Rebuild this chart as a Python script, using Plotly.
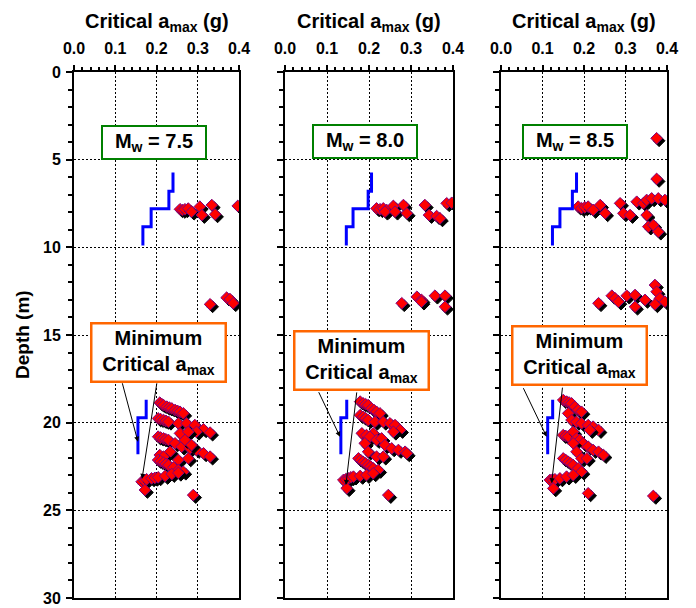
import plotly.graph_objects as go

# ---------------- data ----------------
magnitudes = ["7.5", "8.0", "8.5"]

# minimum critical a_max profiles (step lines): layer boundaries and values
step_depth_upper = [5.73, 6.8, 7.8, 8.83, 9.9]
step_depth_lower = [18.7, 19.72, 21.8]
step_upper_m75 = [0.240, 0.230, 0.187, 0.167]
step_upper_m80 = [0.206, 0.198, 0.162, 0.146]
step_upper_m85 = [0.182, 0.172, 0.142, 0.124]
step_lower_m75 = [0.175, 0.155]
step_lower_m80 = [0.147, 0.133]
step_lower_m85 = [0.1245, 0.1125]

# critical a_max of individual samples, Mw = 7.5
amax_m75 = [0.257, 0.263, 0.269, 0.277, 0.285, 0.305, 0.310, 0.334, 0.342, 0.397,
            0.330, 0.370, 0.378, 0.386,
            0.208, 0.212, 0.217, 0.225, 0.231, 0.237, 0.245, 0.251, 0.257, 0.265,
            0.204, 0.210, 0.217, 0.223, 0.229, 0.253, 0.273, 0.293, 0.314, 0.297, 0.330,
            0.257, 0.277,
            0.204, 0.210, 0.217, 0.223, 0.229, 0.245, 0.261, 0.281, 0.297, 0.314, 0.330,
            0.233, 0.253, 0.277, 0.269, 0.285,
            0.208, 0.217, 0.204, 0.210, 0.217, 0.223, 0.229, 0.241, 0.253, 0.265,
            0.164, 0.170, 0.176, 0.188, 0.196, 0.204, 0.221, 0.237, 0.253,
            0.172, 0.289]
depth_m75 = [7.83, 7.87, 7.83, 7.79, 7.97, 7.68, 8.16, 7.59, 8.12, 7.64,
             13.25, 12.87, 12.95, 13.19,
             18.86, 18.93, 19.00, 19.09, 19.14, 19.19, 19.28, 19.33, 19.38, 19.47,
             19.76, 19.80, 19.85, 19.90, 19.95, 20.04, 20.04, 20.14, 20.38, 20.52, 20.57,
             20.61, 20.52,
             20.80, 20.85, 20.90, 20.95, 20.99, 21.18, 21.37, 21.47, 21.56, 21.75, 21.94,
             21.66, 22.13, 22.04, 20.99, 21.28,
             21.85, 21.94, 22.13, 22.20, 22.28, 22.35, 22.42, 22.55, 22.70, 22.80,
             23.37, 23.30, 23.23, 23.18, 23.15, 23.12, 23.04, 22.93, 22.86,
             23.84, 24.13]

# Mw = 8.0
amax_m80 = [0.218, 0.226, 0.234, 0.242, 0.238, 0.258, 0.262, 0.282, 0.290, 0.333,
            0.343, 0.361, 0.369, 0.385, 0.397,
            0.278, 0.314, 0.325, 0.325, 0.357, 0.381, 0.381,
            0.179, 0.186, 0.192, 0.198, 0.206, 0.212, 0.218, 0.226,
            0.179, 0.186, 0.192, 0.198, 0.214, 0.234, 0.250, 0.262, 0.274, 0.258,
            0.183, 0.194, 0.210, 0.202, 0.218, 0.230, 0.238, 0.254, 0.270, 0.286, 0.290,
            0.190, 0.198, 0.218, 0.234,
            0.175, 0.180, 0.186, 0.192, 0.198, 0.204, 0.210, 0.222,
            0.139, 0.145, 0.151, 0.157, 0.163, 0.179, 0.194, 0.210,
            0.147, 0.246]
depth_m80 = [7.78, 7.83, 7.78, 7.87, 7.97, 7.64, 7.97, 7.59, 8.06, 7.59,
             8.16, 8.22, 8.35, 7.49, 7.46,
             13.19, 12.82, 13.00, 13.10, 12.76, 12.76, 13.39,
             18.80, 18.90, 18.95, 19.00, 19.19, 19.28, 19.38, 19.47,
             19.57, 19.66, 19.75, 19.85, 19.95, 19.95, 20.04, 20.14, 20.42, 20.52,
             20.61, 20.71, 20.61, 20.80, 20.99, 20.90, 21.28, 21.47, 21.56, 21.66, 21.75,
             21.18, 21.66, 21.94, 21.94,
             22.04, 22.13, 22.23, 22.32, 22.42, 22.50, 22.60, 22.70,
             23.27, 23.22, 23.18, 23.12, 23.08, 23.04, 22.99, 22.89,
             23.74, 24.13]

# Mw = 8.5
amax_m85 = [0.375, 0.375,
            0.186, 0.194, 0.202, 0.210, 0.222, 0.239, 0.251, 0.287, 0.295, 0.311,
            0.327, 0.343, 0.351, 0.363, 0.379, 0.395, 0.351, 0.355, 0.367, 0.379,
            0.235, 0.267, 0.275, 0.283, 0.303, 0.323, 0.323, 0.347, 0.371, 0.375,
            0.383, 0.371, 0.395,
            0.150, 0.158, 0.164, 0.170, 0.178, 0.186, 0.194,
            0.162, 0.170, 0.182, 0.194, 0.210, 0.222, 0.235, 0.214,
            0.150, 0.156, 0.162, 0.174, 0.182, 0.190, 0.198, 0.210, 0.222, 0.235, 0.247,
            0.174, 0.182, 0.194, 0.207,
            0.150, 0.156, 0.162, 0.168, 0.174, 0.186, 0.194,
            0.118, 0.124, 0.130, 0.142, 0.158, 0.174,
            0.126, 0.210, 0.367]
depth_m85 = [3.78, 6.10,
             7.68, 7.77, 7.72, 7.68, 7.87, 7.59, 8.06, 7.49, 8.06, 8.16,
             7.40, 7.49, 7.30, 7.21, 7.21, 7.30, 8.16, 8.82, 8.73, 9.11,
             13.19, 12.76, 12.91, 13.10, 12.76, 12.72, 13.39, 13.00, 12.15, 12.53,
             12.91, 13.25, 13.10,
             18.71, 18.80, 18.85, 18.90, 19.09, 19.28, 19.38,
             19.47, 19.85, 19.95, 20.04, 20.14, 20.23, 20.42, 20.42,
             20.71, 20.76, 20.80, 20.52, 20.90, 20.99, 21.18, 21.37, 21.56, 21.66, 21.85,
             21.18, 21.66, 22.04, 22.04,
             22.04, 22.13, 22.23, 22.32, 22.42, 22.60, 22.80,
             23.27, 23.25, 23.23, 23.18, 23.08, 22.99,
             23.75, 24.03, 24.18]

x_ticks = [0.0, 0.1, 0.2, 0.3, 0.4]
x_tick_text = ["0.0", "0.1", "0.2", "0.3", "0.4"]
y_ticks = [0, 5, 10, 15, 20, 25, 30]

# ---------------- layout geometry (pixels) ----------------
W, H = 696, 608
panel_px = [(74, 239), (285, 453), (501, 667)]
plot_top, plot_bot = 72, 598
X_MAX, Y_MAX = 0.4, 30
FONT = "Liberation Sans, Arial, sans-serif"
GRID_DASH = "2px,2px"

panels = [
    (amax_m75, depth_m75, step_upper_m75, step_lower_m75),
    (amax_m80, depth_m80, step_upper_m80, step_lower_m80),
    (amax_m85, depth_m85, step_upper_m85, step_lower_m85),
]


def step_xy(values, bounds):
    xs = list(values) + [values[-1]]
    return xs, list(bounds)


fig = go.Figure()
for i, (ax_vals, d_vals, up, low) in enumerate(panels):
    xa = "x" if i == 0 else f"x{i + 1}"
    ya = "y" if i == 0 else f"y{i + 1}"
    left, right = panel_px[i]
    # drop-shadow offset of about 2.5 px converted to data units
    dx = 2.5 * X_MAX / (right - left)
    dy = 2.5 * Y_MAX / (plot_bot - plot_top)
    # each sample is drawn as its shadow followed by the marker itself,
    # so overlapping samples stack the way they are plotted
    xs, ys, fills, edges = [], [], [], []
    for v, d in zip(ax_vals, d_vals):
        xs += [v + dx, v]
        ys += [d + dy, d]
        fills += ["black", "#ff0000"]
        edges += ["black", "#800080"]
    fig.add_trace(go.Scatter(
        x=xs, y=ys, mode="markers",
        marker=dict(symbol="diamond", size=9, color=fills,
                    line=dict(color=edges, width=1)),
        xaxis=xa, yaxis=ya))
    for vals, bounds in ((up, step_depth_upper), (low, step_depth_lower)):
        sx, sy = step_xy(vals, bounds)
        fig.add_trace(go.Scatter(
            x=sx, y=sy, mode="lines", line=dict(color="#0000ff", width=3, shape="vh"),
            xaxis=xa, yaxis=ya))

layout = dict(
    width=W, height=H, margin=dict(l=0, r=0, t=0, b=0, autoexpand=False),
    paper_bgcolor="white", plot_bgcolor="white", showlegend=False,
    font=dict(family=FONT, color="black"),
)

y_dom = [1 - plot_bot / H, 1 - plot_top / H]
for i, (left, right) in enumerate(panel_px):
    suffix = "" if i == 0 else str(i + 1)
    anchor_y = "y" + suffix
    anchor_x = "x" + suffix
    layout["xaxis" + suffix] = dict(
        domain=[left / W, right / W], anchor=anchor_y, side="top",
        range=[0, X_MAX], tickvals=x_ticks, ticktext=x_tick_text,
        ticks="outside", ticklen=5, tickwidth=2, tickcolor="black",
        ticklabelstandoff=5, automargin=False,
        tickfont=dict(size=16, family=FONT, weight="bold"),
        minor=dict(dtick=0.02, ticks="outside", ticklen=3, tickwidth=1.5,
                   tickcolor="black", showgrid=False),
        showline=True, linewidth=2, linecolor="black", mirror=True,
        showgrid=True, gridcolor="black", gridwidth=1, griddash=GRID_DASH,
        zeroline=False, fixedrange=True,
    )
    layout["yaxis" + suffix] = dict(
        domain=y_dom, anchor=anchor_x, range=[Y_MAX, 0],
        tickvals=y_ticks, showticklabels=(i == 0),
        ticks="outside", ticklen=6, tickwidth=2, tickcolor="black",
        ticklabelstandoff=2, automargin=False,
        tickfont=dict(size=16, family=FONT, weight="bold"),
        minor=dict(dtick=1, ticks="outside", ticklen=4, tickwidth=1.5,
                   tickcolor="black", showgrid=False),
        showline=True, linewidth=2, linecolor="black", mirror=True,
        showgrid=True, gridcolor="black", gridwidth=1, griddash=GRID_DASH,
        zeroline=False, fixedrange=True,
    )

fig.update_layout(**layout)

annotations = []
# top axis titles
for i, (left, right) in enumerate(panel_px):
    annotations.append(dict(
        text="Critical a<sub>max</sub> (g)", xref="paper", yref="paper",
        x=(left + right) / 2 / W, y=1 - 22 / H, showarrow=False,
        xanchor="center", yanchor="middle",
        font=dict(size=20, family=FONT, weight="bold")))

# depth axis title
annotations.append(dict(
    text="Depth (m)", xref="paper", yref="paper", x=22 / W, y=1 - 335 / H,
    textangle=-90, showarrow=False, xanchor="center", yanchor="middle",
    font=dict(size=19, family=FONT, weight="bold")))

# magnitude boxes and "Minimum Critical a_max" call-outs
mag_box_px = [(154, 142.5), (365, 141), (574.5, 141)]
min_box_px = [(158.5, 352.5), (361, 360), (579, 355)]
arrow_tips = [  # (panel, tip x, tip depth, tail offset px)
    (0, 0.155, 21.09, -16, -60), (0, 0.165, 23.2, 15, -97),
    (1, 0.131, 20.8, -22, -46), (1, 0.145, 23.55, 11, -94),
    (2, 0.110, 20.8, -24, -50), (2, 0.122, 23.45, 11, -97),
]
for i in range(3):
    cx, cy = mag_box_px[i]
    annotations.append(dict(
        text=f"M<sub>w</sub> = {magnitudes[i]}", xref="paper", yref="paper",
        x=cx / W, y=1 - cy / H, xanchor="center", yanchor="middle",
        showarrow=False, bgcolor="white", bordercolor="#008000", borderwidth=2,
        borderpad=1, width=100, height=29,
        font=dict(size=20, family=FONT, weight="bold")))
    mx, my = min_box_px[i]
    annotations.append(dict(
        text="Minimum<br>Critical a<sub>max</sub>", xref="paper", yref="paper",
        x=mx / W, y=1 - my / H, xanchor="center", yanchor="middle",
        showarrow=False, bgcolor="white", bordercolor="#ff6600", borderwidth=2.5,
        borderpad=1, width=130, height=54,
        font=dict(size=20, family=FONT, weight="bold")))

for p, tx, ty, ax, ay in arrow_tips:
    suffix = "" if p == 0 else str(p + 1)
    annotations.append(dict(
        text="", x=tx, y=ty, xref="x" + suffix, yref="y" + suffix,
        ax=ax, ay=ay, showarrow=True, arrowhead=2, arrowsize=1,
        arrowwidth=1, arrowcolor="black", standoff=0, startstandoff=0))

fig.update_layout(annotations=annotations)
fig.write_html("out.html")
